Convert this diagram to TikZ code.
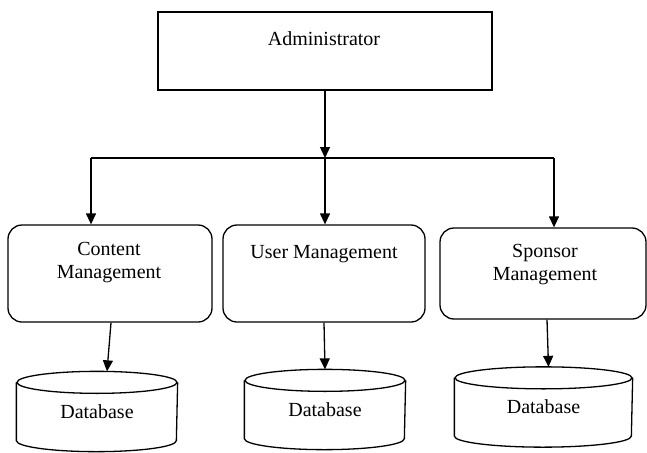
\documentclass[tikz,border=0pt]{standalone}
\usepackage{fontspec}
\setmainfont{Liberation Serif}
\usetikzlibrary{arrows.meta,calc}
\begin{document}
\begin{tikzpicture}[x=1pt,y=-1pt,
  line width=1.3pt,
  arr/.style={-{Triangle[width=10pt,length=11pt]}},
  txt/.style={font=\fontsize{20}{23}\selectfont, inner sep=0pt, align=center},
  adminbox/.style={draw, rectangle, inner sep=0pt},
  mgmtbox/.style={draw, rectangle, rounded corners=14pt, inner sep=0pt},
  dbbox/.style={rectangle, inner sep=0pt, minimum width=160pt, minimum height=79pt, font=\fontsize{20}{23}\selectfont}
]
\useasboundingbox (0,0) rectangle (647,452);
\clip (0,0) rectangle (647,452);

% Administrator
\node[adminbox, minimum width=334pt, minimum height=78pt] (admin) at (325,51) {};
\node[txt] (admintxt) at (324,39) {Administrator};

% management boxes
\node[mgmtbox, minimum width=204pt, minimum height=97pt] (content) at (110,273.5) {};
\node[txt] (contenttxt) at (109,263) {Content\\Management};
\node[mgmtbox, minimum width=202pt, minimum height=97pt] (user) at (324,273.5) {};
\node[txt] (usertxt) at (324,254) {User Management};
\node[mgmtbox, minimum width=206pt, minimum height=91pt] (sponsor) at (543,273.5) {};
\node[txt] (sponsortxt) at (545,265) {Sponsor\\Management};

% branch
\coordinate (bl) at (91,158);
\coordinate (bm) at (325,158);
\coordinate (br) at (554,158);
\draw[arr] (admin.south) -- (bm);
\draw (bl) -- (br);
\draw[arr] (bl) -- (bl |- content.north);
\draw[arr] (bm) -- (bm |- user.north);
\draw[arr] (br) -- (br |- sponsor.north);

% databases
\node[dbbox] (db1) at (97,411.5) {Database};
\node[dbbox] (db2) at (325,409.5) {Database};
\node[dbbox, minimum width=177pt] (db3) at (543.5,407) {Database};

\foreach \d/\rx in {db1/80,db2/80,db3/88.5} {
  \draw ([yshift=-11pt]\d.north) ellipse [x radius=\rx pt, y radius=11pt];
  \draw ([yshift=-11pt]\d.north west) -- ([yshift=11pt]\d.south west)
        arc[start angle=180, end angle=360, x radius=\rx pt, y radius=11pt]
        -- ([yshift=-11pt]\d.north east);
}

\draw[arr] ([xshift=1pt]content.south) -- ([xshift=10pt]db1.north);
\draw[arr] (user.south) -- (db2.north);
\draw[arr] ([xshift=4pt]sponsor.south) -- ([xshift=5pt]db3.north);
\end{tikzpicture}
\end{document}
